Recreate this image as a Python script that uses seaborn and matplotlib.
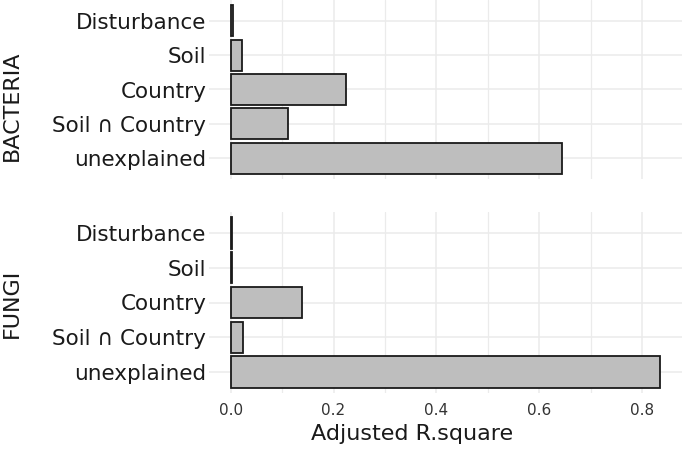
import pandas as pd
import matplotlib.pyplot as plt
import seaborn as sns
from matplotlib.ticker import MultipleLocator

components = ["Disturbance", "Soil", "Country", "Soil \u2229 Country", "unexplained"]
bacteria = [0.005, 0.022, 0.224, 0.112, 0.644]
fungi = [0.002, 0.003, 0.139, 0.024, 0.835]
groups = ["BACTERIA", "FUNGI"]
xticks = [0.0, 0.2, 0.4, 0.6, 0.8]

sns.set_theme(style="white")
plt.rcParams['font.family'] = ['DejaVu Sans']

fig = plt.figure(figsize=(6.83, 4.49), dpi=100)
ax_top = fig.add_axes([209/683, 1 - 179/449, 473/683, 179/449])
ax_bot = fig.add_axes([209/683, 1 - 393/449, 473/683, 181/449])

for ax, vals in [(ax_top, bacteria), (ax_bot, fungi)]:
    df = pd.DataFrame({"component": components, "value": vals})
    sns.barplot(data=df, x="value", y="component", orient="h", order=components,
                color="#bebebe", saturation=1, edgecolor="#1a1a1a", linewidth=1.3,
                width=0.9, ax=ax)
    ax.set_xlim(-0.042, 0.877)
    ax.set_ylim(4.6, -0.6)
    ax.xaxis.set_major_locator(MultipleLocator(0.2))
    ax.xaxis.set_minor_locator(MultipleLocator(0.1))
    ax.grid(True, which="major", color="#ebebeb", linewidth=1.1)
    ax.grid(True, which="minor", axis="x", color="#ebebeb", linewidth=0.9)
    ax.set_axisbelow(True)
    for s in ax.spines.values():
        s.set_visible(False)
    ax.set_xlabel("")
    ax.set_ylabel("")
    ax.tick_params(axis="y", length=0, pad=2, labelsize=15.5, labelcolor="#1a1a1a")
    ax.tick_params(axis="x", which="both", length=0, pad=7, labelsize=11, labelcolor="#333333")

ax_top.tick_params(axis="x", labelbottom=False)
ax_bot.set_xticks(xticks)
ax_bot.set_xticklabels([f"{t:.1f}" for t in xticks])

fig.text(12/683, 1 - 106/449, groups[0], rotation=90, ha="center", va="center",
         fontsize=16, color="#1a1a1a")
fig.text(12/683, 1 - 303/449, groups[1], rotation=90, ha="center", va="center",
         fontsize=16, color="#1a1a1a")
fig.text(412/683, 1 - 440/449, "Adjusted R.square", ha="center", va="baseline",
         fontsize=16, color="#1a1a1a")

fig.savefig("out.png", dpi=100)
